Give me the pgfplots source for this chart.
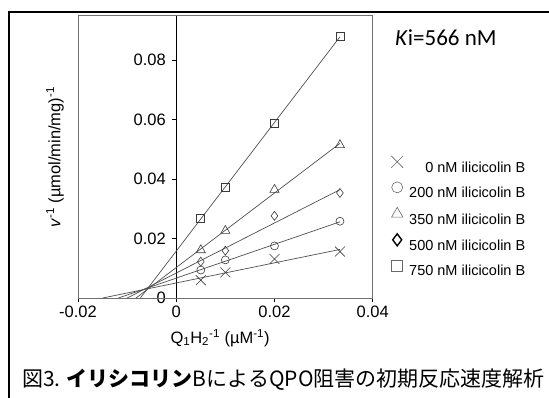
\documentclass[border=0pt]{standalone}
\usepackage{fontspec}
\setmainfont{Liberation Sans}
\newfontfamily\calibri{Carlito}
\newfontfamily\cjk{Noto Sans CJK JP}
\usepackage{pgfplots}
\pgfplotsset{compat=1.18}
\definecolor{ln}{HTML}{505050}
\definecolor{mk}{HTML}{3A3A3A}
\definecolor{fr}{HTML}{707070}
\definecolor{lg}{HTML}{6A6A6A}
\begin{document}
\begin{tikzpicture}[x=1pt,y=1pt]
\useasboundingbox (0,0) rectangle (549,398);
\draw[line width=1.8pt] (9,-10) -- (9,386.3) -- (560,386.3);
\begin{axis}[
  at={(78pt,100pt)}, anchor=south west, scale only axis,
  width=294.7pt, height=283pt,
  xmin=-0.02, xmax=0.04, ymin=0, ymax=0.0951,
  axis lines*=middle, axis line style={black, line width=0.8pt},
  hide obscured x ticks=false, hide obscured y ticks=false,
  xtick={-0.02,0,0.02,0.04}, ytick={0,0.02,0.04,0.06,0.08},
  scaled x ticks=false, scaled y ticks=false,
  /pgf/number format/fixed, /pgf/number format/precision=2,
  /pgf/number format/assume math mode=true,
  tick align=outside, major tick length=4pt,
  tick style={black, line width=0.8pt},
  tick label style={font=\fontsize{16.5}{17}\selectfont},
  yticklabel style={xshift=-3pt},
  every axis x label/.style={at={(axis description cs:0.482,-0.141)}, anchor=center},
  every axis y label/.style={at={(axis description cs:-0.078,0.497)}, anchor=center, rotate=90},
  label style={font=\fontsize{16.5}{17}\selectfont},
  xlabel={Q\textsubscript{1}H\textsubscript{2}\textsuperscript{-1} (µM\textsuperscript{-1})},
  ylabel={\textit{v}\textsuperscript{-1} (µmol/min/mg)\textsuperscript{-1}},
  clip=false,
  legend cell align=right,
  legend style={at={(axis description cs:1.0621,0.503)}, anchor=north west,
    draw=none, fill=none, inner sep=0pt, font=\fontsize{14.5}{14.5}\selectfont,
    nodes={inner sep=0pt, text height=10.4pt, text depth=0pt},
    row sep=9.6pt, column sep=0pt,
    /tikz/every odd column/.append style={column sep=6pt}},
  legend image code/.code={\draw[#1] plot coordinates {(0pt,5.2pt)};},
]
\draw[fr, line width=0.8pt] (rel axis cs:0,0) rectangle (rel axis cs:1,1);
% fitted lines
\addplot[ln, line width=0.7pt, forget plot] coordinates {(-0.01497,0) (0.03333,0.01631)};
\addplot[ln, line width=0.7pt, forget plot] coordinates {(-0.01177,0) (0.03333,0.02560)};
\addplot[ln, line width=0.7pt, forget plot] coordinates {(-0.00998,0) (0.03333,0.03641)};
\addplot[ln, line width=0.7pt, forget plot] coordinates {(-0.00818,0) (0.03333,0.05196)};
\addplot[ln, line width=0.7pt, forget plot] coordinates {(-0.00730,0) (0.03333,0.08777)};
% data
\addplot[only marks, mark=x, mark size=7pt, mk, line width=0.6pt, forget plot] coordinates {(0.005,0.0060) (0.01,0.0086) (0.02,0.0131) (0.03333,0.0156)};
\addplot[only marks, mark=o, mark size=4pt, mk, line width=0.6pt, forget plot] coordinates {(0.005,0.0094) (0.01,0.0128) (0.02,0.0175) (0.03333,0.0258)};
\addplot[only marks, mark=diamond, mark size=4.5pt, mk, line width=0.6pt, forget plot] coordinates {(0.005,0.0122) (0.01,0.0159) (0.02,0.0276) (0.03333,0.0353)};
\addplot[only marks, mark=triangle, mark size=5.3pt, mk, line width=0.6pt, forget plot] coordinates {(0.005,0.0161) (0.01,0.0226) (0.02,0.0364) (0.03333,0.0514)};
\addplot[only marks, mark=square, mark size=4pt, mk, line width=0.6pt, forget plot] coordinates {(0.005,0.0268) (0.01,0.0372) (0.02,0.0588) (0.03333,0.0879)};
% legend
\addlegendimage{only marks, mark=x, mark size=8.5pt, lg, line width=0.6pt}
\addlegendentry{0 nM ilicicolin B}
\addlegendimage{only marks, mark=o, mark size=5.5pt, lg, line width=0.6pt}
\addlegendentry{200 nM ilicicolin B}
\addlegendimage{only marks, mark=triangle, mark size=6.5pt, lg, line width=0.6pt}
\addlegendentry{350 nM ilicicolin B}
\addlegendimage{only marks, mark=diamond, mark size=6pt, black, line width=1.4pt}
\addlegendentry{500 nM ilicicolin B}
\addlegendimage{only marks, mark=square, mark size=5.5pt, lg, line width=0.6pt}
\addlegendentry{750 nM ilicicolin B}
\end{axis}
\node[anchor=base west, inner sep=0pt, font=\calibri\fontsize{23}{23}\selectfont] at (395,352.6) {\textit{K}i=566 nM};
\node[anchor=west, inner sep=0pt, font=\cjk\fontsize{21}{21}\selectfont] at (22,18) {図3. {\bfseries イリシコリン}BによるQPO阻害の初期反応速度解析};
\end{tikzpicture}
\end{document}
